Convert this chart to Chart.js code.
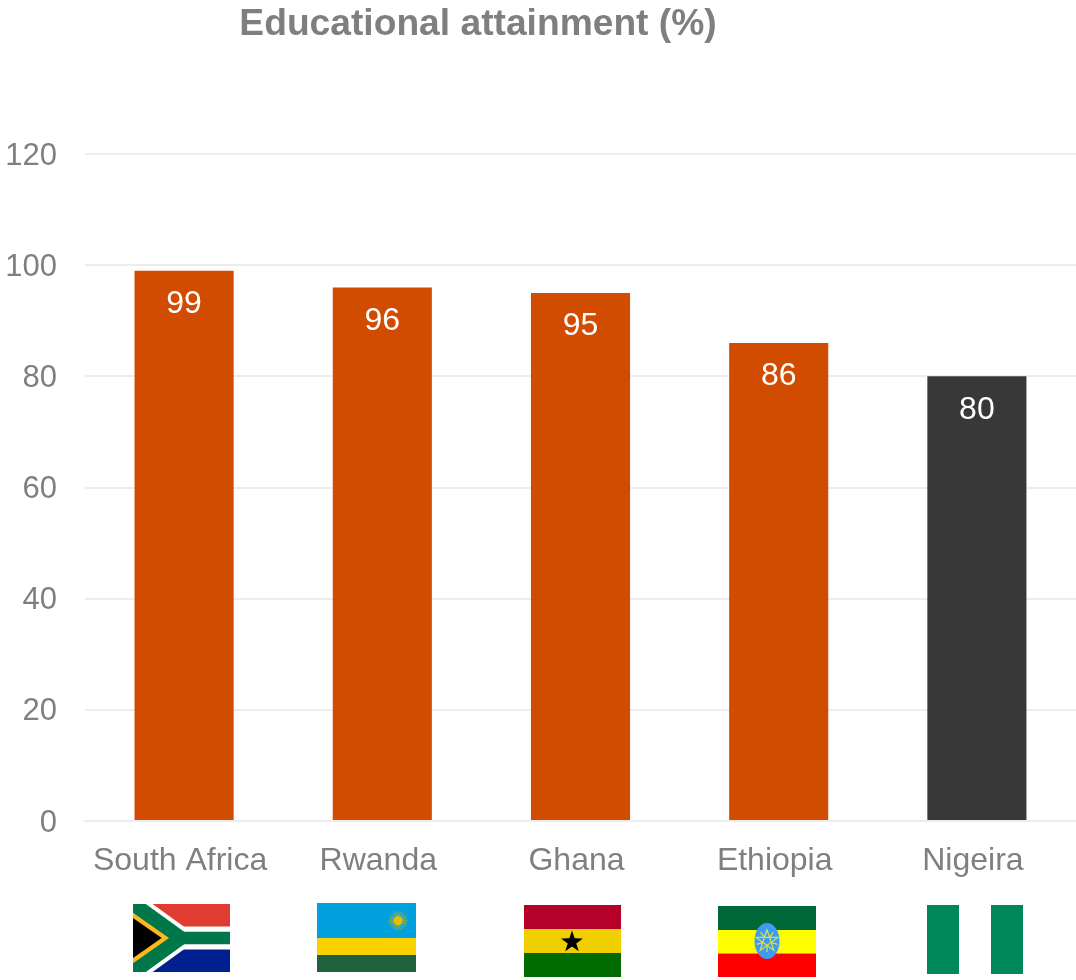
<!DOCTYPE html>
<html>
<head>
<meta charset="utf-8">
<style>html,body{margin:0;padding:0;background:#fff}canvas{display:block}</style>
<script src="https://cdn.jsdelivr.net/npm/chart.js@4"></script>
</head>
<body>
<canvas id="c" width="1076" height="980"></canvas>
<script>
const categories = ["South Africa", "Rwanda", "Ghana", "Ethiopia", "Nigeira"];
const attainment = [99, 96, 95, 86, 80];
const barColors = ["#D14B00", "#D14B00", "#D14B00", "#D14B00", "#383838"];
const titleText = "Educational attainment (%)";
const flagBoxes = [[133,904,97,68],[317,903,99,69],[524,905,97,72],[718,906,98,71],[927,905,96,69]];

function rect(x, X, Y, w, h, col){ x.fillStyle = col; x.fillRect(X, Y, w, h); }
function star(x, cx, cy, r, inner, pts){
  x.beginPath();
  for(let i = 0; i < pts*2; i++){
    const a = -Math.PI/2 + i*Math.PI/pts, q = i%2 ? inner : r;
    x.lineTo(cx + q*Math.cos(a), cy + q*Math.sin(a));
  }
  x.closePath();
}
const flagPainters = [
  function(x, w, h){
    rect(x,0,0,w,h/2,"#E03C31"); rect(x,0,h/2,w,h/2,"#00208F");
    const diag = () => { x.beginPath(); x.moveTo(-5,-3.6); x.lineTo(47,34); x.lineTo(-5,h+3.6); x.stroke(); };
    const bar = () => { x.beginPath(); x.moveTo(47,34); x.lineTo(w+5,34); x.stroke(); };
    x.lineJoin = "miter";
    x.strokeStyle = "#fff"; x.lineWidth = 23; diag(); bar();
    x.strokeStyle = "#007749"; x.lineWidth = 15; diag(); x.lineWidth = 12.5; bar();
    x.fillStyle = "#FFB81C"; x.beginPath(); x.moveTo(0,8.7); x.lineTo(36,34); x.lineTo(0,59.3); x.fill();
    x.fillStyle = "#000"; x.beginPath(); x.moveTo(0,14); x.lineTo(28.7,34); x.lineTo(0,54); x.fill();
  },
  function(x, w, h){
    rect(x,0,0,w,35,"#00A1DE"); rect(x,0,35,w,17,"#FAD201"); rect(x,0,52,w,h-52,"#20603D");
    x.strokeStyle = "rgba(229,190,1,.55)"; x.lineWidth = 1;
    for(let i = 0; i < 24; i++){
      const a = i*Math.PI/12;
      x.beginPath(); x.moveTo(81,17.7); x.lineTo(81+9.5*Math.cos(a),17.7+9.5*Math.sin(a)); x.stroke();
    }
    x.fillStyle = "#E5BE01"; x.beginPath(); x.arc(81,17.7,4.5,0,7); x.fill();
  },
  function(x, w, h){
    rect(x,0,0,w,24,"#B5002A"); rect(x,0,24,w,24,"#EFCF00"); rect(x,0,48,w,h-48,"#006B00");
    x.fillStyle = "#000"; star(x,48,37,11.5,4.5,5); x.fill();
  },
  function(x, w, h){
    rect(x,0,0,w,24,"#006838"); rect(x,0,24,w,23.5,"#FFFF00"); rect(x,0,47.5,w,h-47.5,"#FF0000");
    x.fillStyle = "#3F9BEF"; x.beginPath(); x.ellipse(49,35,12.5,18,0,0,7); x.fill();
    x.strokeStyle = "#D8E04A"; x.lineWidth = 1.2;
    x.beginPath();
    for(let i = 0; i <= 5; i++){
      const a = -Math.PI/2 + i*4*Math.PI/5;
      x.lineTo(49 + 11.5*Math.cos(a), 35 + 11.5*Math.sin(a));
    }
    x.stroke();
    for(let i = 0; i < 5; i++){
      const a = Math.PI/2 + i*2*Math.PI/5;
      x.beginPath(); x.moveTo(49+4.4*Math.cos(a),35+4.4*Math.sin(a)); x.lineTo(49+11*Math.cos(a),35+11*Math.sin(a)); x.stroke();
    }
  },
  function(x, w, h){
    rect(x,0,0,w/3,h,"#00875A"); rect(x,w*2/3,0,w/3,h,"#00875A");
  }
];

const overlay = {
  id: "overlay",
  afterLayout(chart){ chart.titleBlock.left -= 60; chart.titleBlock.right -= 60; },
  afterDatasetsDraw(chart){
    const x = chart.ctx, bars = chart.getDatasetMeta(0).data;
    x.save();
    x.fillStyle = "#fff"; x.font = "32px 'Liberation Sans'";
    x.textAlign = "center"; x.textBaseline = "middle";
    bars.forEach((b, i) => x.fillText(String(attainment[i]), b.x, b.y + 33.5));
    x.restore();
    flagBoxes.forEach((f, i) => {
      x.save();
      x.beginPath(); x.rect(f[0], f[1], f[2], f[3]); x.clip();
      x.translate(f[0], f[1]);
      flagPainters[i](x, f[2], f[3]);
      x.restore();
    });
  }
};

new Chart(document.getElementById("c"), {
  type: "bar",
  data: { labels: categories, datasets: [{ data: attainment, backgroundColor: barColors, borderWidth: 0, barPercentage: 0.5, categoryPercentage: 1 }] },
  plugins: [overlay],
  options: {
    responsive: false, animation: false,
    layout: { padding: 0 },
    plugins: {
      legend: { display: false }, tooltip: { enabled: false },
      title: { display: true, text: titleText, color: "#7F7F7F",
        font: { family: "'Liberation Sans'", size: 37.2, weight: "bold", lineHeight: 1.2 },
        padding: { top: 2.5, bottom: 106.9 } }
    },
    scales: {
      x: {
        grid: { display: false, drawTicks: false },
        border: { color: "#EDEDED", width: 2 },
        afterFit(s){ s.height = 159; },
        ticks: { color: "#7F7F7F", font: { family: "'Liberation Sans'", size: 32 }, padding: 21, labelOffset: -4, maxRotation: 0, autoSkip: false }
      },
      y: {
        min: 0, max: 120,
        afterFit(s){ s.width = 85; },
        border: { display: false },
        grid: { color: "#EDEDED", lineWidth: 2, drawTicks: false },
        ticks: { stepSize: 20, color: "#7F7F7F", font: { family: "'Liberation Sans'", size: 31 }, padding: 28, labelOffset: 2 }
      }
    }
  }
});
</script>
</body>
</html>
